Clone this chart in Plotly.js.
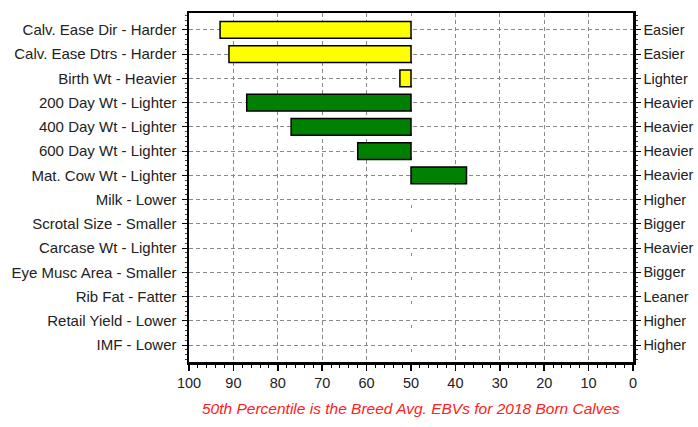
<!DOCTYPE html>
<html>
<head>
<meta charset="utf-8">
<script src="https://cdn.plot.ly/plotly-3.0.1.min.js"></script>
<style>html,body{margin:0;padding:0;background:#fff;}#chart{width:698px;height:427px;}</style>
</head>
<body>
<div id="chart"></div>
<script>
const leftLabels = ["Calv. Ease Dir - Harder","Calv. Ease Dtrs - Harder","Birth Wt - Heavier","200 Day Wt - Lighter","400 Day Wt - Lighter","600 Day Wt - Lighter","Mat. Cow Wt - Lighter","Milk - Lower","Scrotal Size - Smaller","Carcase Wt - Lighter","Eye Musc Area - Smaller","Rib Fat - Fatter","Retail Yield - Lower","IMF - Lower"];
const rightLabels = ["Easier","Easier","Lighter","Heavier","Heavier","Heavier","Heavier","Higher","Bigger","Heavier","Bigger","Leaner","Higher","Higher"];
const percentiles = [93, 91, 52.5, 87, 77, 62, 37.5, 50, 50, 50, 50, 50, 50, 50];
const barColors = ["#ffff00","#ffff00","#ffff00","#008000","#008000","#008000","#008000","#008000","#008000","#008000","#008000","#008000","#008000","#008000"];
const breedAvg = 50;
const xTicks = [100, 90, 80, 70, 60, 50, 40, 30, 20, 10, 0];
const footer = "50th Percentile is the Breed Avg. EBVs for 2018 Born Calves";

const idx = leftLabels.map((_, i) => i);
const font = "Liberation Sans, Arial, sans-serif";
const yRange = [13.7, -0.7];

const traces = [
  {
    type: "bar", orientation: "h",
    y: idx, x: percentiles.map(v => v - breedAvg), base: breedAvg,
    width: 0.69,
    marker: {color: barColors, line: {color: "#000", width: percentiles.map(v => v === breedAvg ? 0 : 1.5)}},
    hoverinfo: "skip", showlegend: false
  },
  {type: "scatter", mode: "none", x: [breedAvg], y: [0], xaxis: "x", yaxis: "y2", hoverinfo: "skip", showlegend: false},
  {type: "scatter", mode: "none", x: [breedAvg], y: [0], xaxis: "x2", yaxis: "y", hoverinfo: "skip", showlegend: false},
  {type: "scatter", mode: "none", x: [breedAvg], y: [0], xaxis: "x3", yaxis: "y", hoverinfo: "skip", showlegend: false}
];

const gridTicks = xTicks.filter(v => v !== breedAvg);

const layout = {
  width: 698, height: 427,
  margin: {l: 189, r: 65, t: 13, b: 65},
  paper_bgcolor: "#fff", plot_bgcolor: "#fff",
  font: {family: font, size: 12, color: "#222"},
  showlegend: false,
  bargap: 0,
  xaxis: {
    range: [100, 0], tickvals: xTicks, ticktext: xTicks.map(String),
    showgrid: false, zeroline: false,
    ticks: "outside", ticklen: 6, tickwidth: 1.5, tickcolor: "#000",
    minor: {dtick: 2, tick0: 0, ticks: "outside", ticklen: 3, tickcolor: "#000", tickwidth: 1, showgrid: false},
    showline: true, linecolor: "#000", linewidth: 2.5, mirror: true,
    tickfont: {family: font, size: 14.5, color: "#222"}
  },
  xaxis2: {
    overlaying: "x", range: [100, 0], tickvals: gridTicks, showticklabels: false,
    showgrid: true, gridcolor: "#8a8a8a", gridwidth: 1, griddash: "4px,3px",
    zeroline: false, showline: false, ticks: ""
  },
  xaxis3: {
    overlaying: "x", range: [100, 0], tickvals: [breedAvg], showticklabels: false,
    showgrid: true, gridcolor: "#8a8a8a", gridwidth: 1, griddash: "3px,21px",
    zeroline: false, showline: false, ticks: ""
  },
  yaxis: {
    range: yRange, tickvals: idx, ticktext: leftLabels,
    showgrid: true, gridcolor: "#8a8a8a", gridwidth: 1, griddash: "4px,3px",
    zeroline: false,
    ticks: "outside", ticklen: 5, tickwidth: 1, tickcolor: "#000",
    minor: {dtick: 0.2, tick0: 0, ticks: "outside", ticklen: 2, tickcolor: "#444", tickwidth: 1, showgrid: false},
    showline: true, linecolor: "#000", linewidth: 2.5,
    ticklabelstandoff: 2,
    tickfont: {family: font, size: 15, color: "#222"}
  },
  yaxis2: {
    overlaying: "y", side: "right", range: yRange, tickvals: idx, ticktext: rightLabels,
    showgrid: false, zeroline: false,
    ticks: "outside", ticklen: 5, tickwidth: 1, tickcolor: "#000",
    minor: {dtick: 0.2, tick0: 0, ticks: "outside", ticklen: 2, tickcolor: "#444", tickwidth: 1, showgrid: false},
    showline: true, linecolor: "#000", linewidth: 2.5,
    ticklabelstandoff: 0,
    tickfont: {family: font, size: 14.5, color: "#222"}
  },
  annotations: [{
    text: footer, xref: "paper", yref: "paper", x: 0.5, y: -0.132,
    xanchor: "center", yanchor: "middle", showarrow: false,
    font: {family: font, size: 15.5, color: "#ff2020", style: "italic"}
  }]
};

Plotly.newPlot("chart", traces, layout, {displayModeBar: false, staticPlot: true});
</script>
</body>
</html>
